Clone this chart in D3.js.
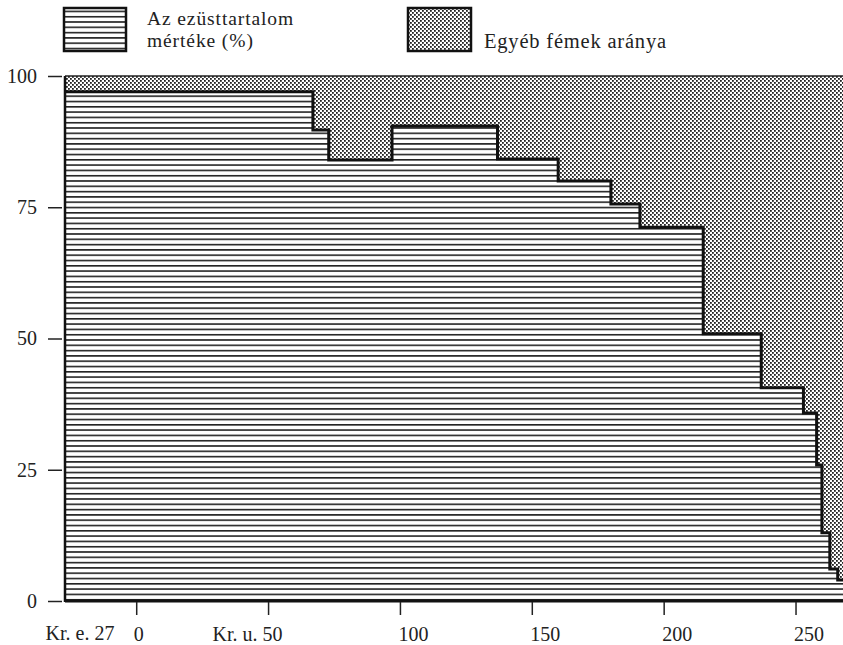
<!DOCTYPE html>
<html>
<head>
<meta charset="utf-8">
<script src="https://cdnjs.cloudflare.com/ajax/libs/d3/7.8.5/d3.min.js"></script>
<style>
  html, body { margin: 0; padding: 0; background: #fff; }
  svg { display: block; }
</style>
</head>
<body>
<svg id="chart" width="843" height="645"></svg>
<script>
// ---- data ----
const yearStarts = [-27, 67, 73, 97, 137, 160, 180, 191, 215, 237, 253, 258, 260, 263, 266];
const silverPct  = [97, 89.7, 84, 90.5, 84.2, 80, 75.6, 71.2, 50.9, 40.6, 35.8, 25.9, 13, 6.1, 4];
const endYear = 268;
const xTickValues = [0, 50, 100, 150, 200, 250];
const xTickLabels = ["0", "Kr. u. 50", "100", "150", "200", "250"];
const startLabel = "Kr. e. 27";
const yTickValues = [0, 25, 50, 75, 100];
const legendLabels = [["Az ezüsttartalom", "mértéke (%)"], ["Egyéb fémek aránya"]];

const FONT = "'Liberation Serif', 'Times New Roman', serif";
const svg = d3.select("#chart");
const x = d3.scaleLinear().domain([-27, endYear]).range([65, 843]);
const y = d3.scaleLinear().domain([0, 100]).range([601, 76]);

// patterns
const defs = svg.append("defs");
const pl = defs.append("pattern").attr("id", "lines").attr("patternUnits", "userSpaceOnUse")
  .attr("width", 8).attr("height", 5.3);
pl.append("rect").attr("width", 8).attr("height", 5.3).attr("fill", "#fff");
pl.append("rect").attr("y", 0).attr("width", 8).attr("height", 1.6).attr("fill", "#222");

const pd = defs.append("pattern").attr("id", "dots").attr("patternUnits", "userSpaceOnUse")
  .attr("width", 4).attr("height", 4);
pd.append("rect").attr("width", 4).attr("height", 4).attr("fill", "#fff");
pd.append("rect").attr("x", 0).attr("y", 0).attr("width", 1.8).attr("height", 1.8).attr("fill", "#222");
pd.append("rect").attr("x", 2).attr("y", 2).attr("width", 1.8).attr("height", 1.8).attr("fill", "#222");

const data = yearStarts.map((yr, i) => ({ yr, v: silverPct[i] }));
data.push({ yr: endYear, v: silverPct[silverPct.length - 1] });

// other metals area (value .. 100)
svg.append("path").datum(data)
  .attr("fill", "url(#dots)")
  .attr("d", d3.area().curve(d3.curveStepAfter).x(d => x(d.yr)).y0(y(100)).y1(d => y(d.v)));

// silver area (0 .. value)
svg.append("path").datum(data)
  .attr("fill", "url(#lines)")
  .attr("d", d3.area().curve(d3.curveStepAfter).x(d => x(d.yr)).y0(y(0)).y1(d => y(d.v)));

// boundary step line
svg.append("path").datum(data)
  .attr("fill", "none").attr("stroke", "#111").attr("stroke-width", 3)
  .attr("d", d3.line().curve(d3.curveStepAfter).x(d => x(d.yr)).y(d => y(d.v)));

// frame: top, left, bottom
svg.append("line").attr("x1", x(-27)).attr("x2", 843).attr("y1", y(100)).attr("y2", y(100))
  .attr("stroke", "#222").attr("stroke-width", 1.5);
svg.append("line").attr("x1", x(-27)).attr("x2", x(-27)).attr("y1", y(100)).attr("y2", y(0) + 1)
  .attr("stroke", "#111").attr("stroke-width", 2.5);
svg.append("line").attr("x1", x(-27)).attr("x2", 843).attr("y1", y(0)).attr("y2", y(0))
  .attr("stroke", "#111").attr("stroke-width", 3);

// y axis
const yAxis = svg.append("g").attr("transform", "translate(62,0)")
  .call(d3.axisLeft(y).tickValues(yTickValues).tickSize(14).tickPadding(11).tickFormat(d3.format("d")));
yAxis.attr("font-family", FONT).attr("font-size", 20);
yAxis.select(".domain").remove();
yAxis.selectAll(".tick line").attr("stroke", "#222").attr("stroke-width", 1.5);
yAxis.selectAll(".tick text").attr("fill", "#222");

// x axis
const xAxis = svg.append("g").attr("transform", `translate(0,${y(0) + 1})`)
  .call(d3.axisBottom(x).tickValues(xTickValues).tickSize(13).tickPadding(12)
    .tickFormat((d, i) => xTickLabels[i]));
xAxis.attr("font-family", FONT).attr("font-size", 20);
xAxis.select(".domain").remove();
xAxis.selectAll(".tick line").attr("stroke", "#222").attr("stroke-width", 1.5);
xAxis.selectAll(".tick text").attr("fill", "#222")
  .attr("text-anchor", (d, i) => i === 0 ? "middle" : (i === 1 ? "end" : "start"))
  .attr("dx", (d, i) => i === 0 ? 2 : (i === 1 ? 14 : -2));

svg.append("text").attr("x", x(-27) + 15).attr("y", 640).attr("text-anchor", "middle")
  .attr("font-family", FONT).attr("font-size", 20).attr("fill", "#222").text(startLabel);

// legend
const lg = svg.append("g").attr("font-family", FONT).attr("fill", "#222");
[[64, 126], [408, 471]].forEach((b, i) => {
  lg.append("rect").attr("x", b[0]).attr("y", 8).attr("width", b[1] - b[0]).attr("height", 43)
    .attr("fill", i === 0 ? "url(#lines)" : "url(#dots)")
    .attr("stroke", "#111").attr("stroke-width", 2.5);
});
lg.append("text").attr("x", 147).attr("y", 25).attr("font-size", 19.5).attr("letter-spacing", 0.9).text(legendLabels[0][0]);
lg.append("text").attr("x", 147).attr("y", 47).attr("font-size", 19.5).attr("letter-spacing", 0.9).text(legendLabels[0][1]);
lg.append("text").attr("x", 484).attr("y", 48).attr("font-size", 20.5).attr("letter-spacing", 0.8).text(legendLabels[1][0]);
</script>
</body>
</html>
